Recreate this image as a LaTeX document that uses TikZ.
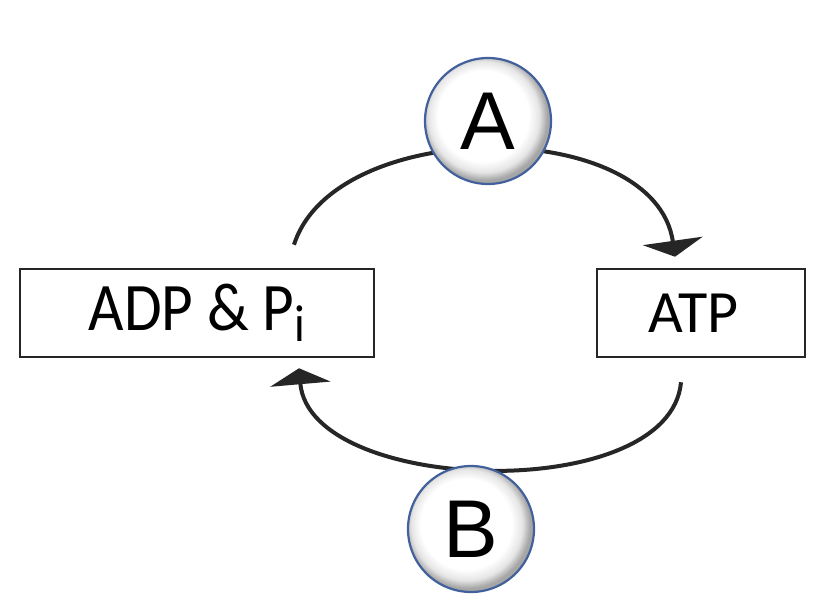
\documentclass[tikz,border=0pt]{standalone}
\usepackage{fontspec}
\setmainfont{Carlito}
\newfontfamily\ballfont{Liberation Sans}
\usetikzlibrary{arrows.meta}
\definecolor{rimblue}{RGB}{66,96,156}
\definecolor{inkgray}{RGB}{38,38,38}
\pgfdeclareradialshading{pearl}{\pgfpoint{-3bp}{3bp}}{color(0bp)=(white); color(18bp)=(white); color(22bp)=(black!10); color(25bp)=(black!35); color(50bp)=(black!35)}
\tikzset{
  box/.style={draw=inkgray, line width=2.5pt, minimum height=88pt, inner sep=0pt},
  ball/.style={circle, draw=rimblue, line width=2.2pt, shading=pearl, minimum size=126pt, inner sep=0pt,
    font=\ballfont\fontsize{82}{82}\selectfont},
  cyc/.style={draw=inkgray, line width=4pt, -{Triangle[width=60pt,length=16pt]}}
}

\begin{document}
\begin{tikzpicture}[x=1pt, y=1pt]
				%%%%% START %%%%%
				\useasboundingbox (0,0) rectangle (840,-612);

				\node[box, minimum width=354pt] (adp) at (197,-313)
					{\scalebox{0.9}[1]{\fontsize{68}{68}\selectfont ADP \& P\raisebox{-11pt}{\fontsize{52}{52}\selectfont i}}};
				\node[box, minimum width=208pt] (atp) at (701,-313)
					{\fontsize{60}{60}\selectfont ATP\kern15pt};

				\coordinate (topstart) at ([xshift=97pt, yshift=23pt]adp.north);
				\coordinate (topend) at ([xshift=-26pt, yshift=11pt]atp.north);
				\coordinate (botstart) at ([xshift=-20pt, yshift=-24pt]atp.south);
				\coordinate (botend) at ([xshift=102pt, yshift=-10pt]adp.south);

				\draw[cyc] (topstart) .. controls +(41,129) and +(-20,141) .. (topend);
				\draw[cyc] (botstart) .. controls +(-11,-123) and +(11,-127) .. (botend);

				\node[ball] (a) at (488,-121) {A};
				\node[ball] (b) at (471,-529) {B};
				%%%%% END %%%%%
\end{tikzpicture}
\end{document}
